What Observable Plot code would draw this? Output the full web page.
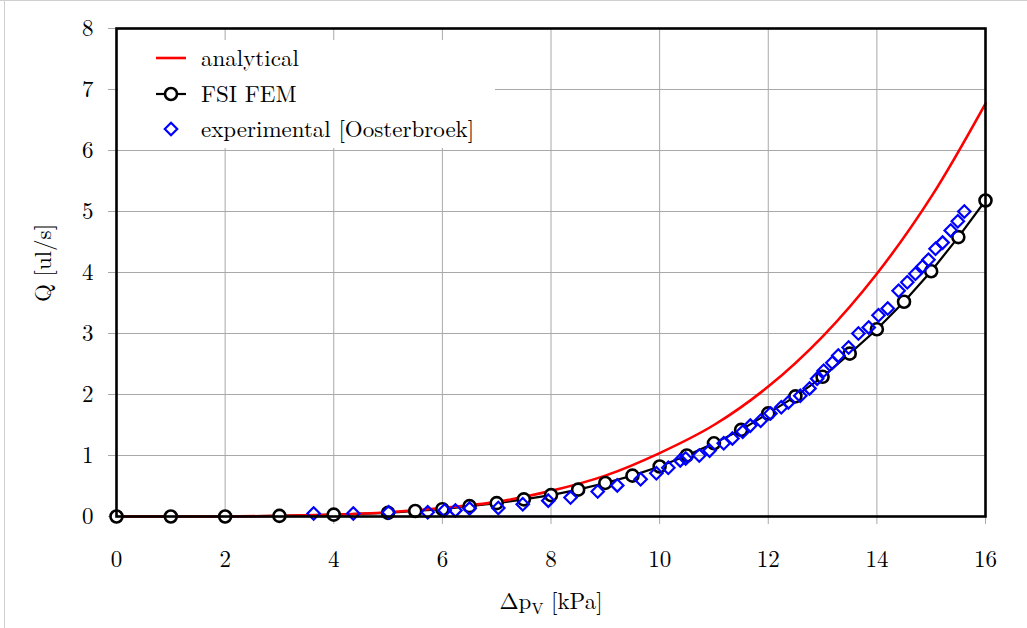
<!DOCTYPE html>
<html>
<head>
<meta charset="utf-8">
<script src="https://cdn.jsdelivr.net/npm/d3@7"></script>
<script src="https://cdn.jsdelivr.net/npm/@observablehq/plot@0.6"></script>
<style>
  html, body { margin: 0; padding: 0; background: white; }
  #wrap { position: relative; width: 1027px; height: 628px; overflow: hidden; }
  #bt { position: absolute; left: 0; top: 0; width: 1027px; height: 1px; background: #cfcfcf; }
  #bl { position: absolute; left: 4px; top: 0; width: 1px; height: 628px; background: #cfcfcf; }
</style>
</head>
<body>
<div id="wrap"><div id="chart"></div><div id="bt"></div><div id="bl"></div></div>
<script>
// ---- data ----
const femX = [0, 1, 2, 3, 4, 5, 5.5, 6, 6.5, 7, 7.5, 8, 8.5, 9, 9.5, 10, 10.5, 11, 11.5, 12, 12.5, 13, 13.5, 14, 14.5, 15, 15.5, 16];
const femQ = [0, 0, 0, 0.01, 0.03, 0.06, 0.09, 0.12, 0.17, 0.22, 0.28, 0.35, 0.44, 0.55, 0.67, 0.82, 1.0, 1.2, 1.42, 1.69, 1.97, 2.29, 2.67, 3.07, 3.52, 4.02, 4.58, 5.18];

const anaX = [0, 1, 2, 3, 4, 5, 6, 7, 8, 9, 10, 11, 12, 13, 14, 15, 16];
const anaQ = [0, 0, 0.0, 0.01, 0.03, 0.07, 0.14, 0.24, 0.42, 0.67, 1.04, 1.5, 2.13, 2.95, 3.98, 5.24, 6.77];

const expX = [3.63, 4.36, 5.01, 5.73, 6.04, 6.24, 6.5, 7.03, 7.48, 7.95, 8.36, 8.86, 9.22, 9.65, 9.94, 10.16, 10.38,
  10.48, 10.73, 10.92, 11.18, 11.34, 11.53, 11.67, 11.86, 12.04, 12.24, 12.37, 12.59, 12.76, 12.9,
  13.02, 13.18, 13.29, 13.48, 13.66, 13.85, 14.03, 14.2, 14.4, 14.56, 14.71, 14.84, 14.95, 15.08, 15.21, 15.36, 15.49, 15.61];
const expQ = [0.05, 0.05, 0.07, 0.07, 0.1, 0.1, 0.13, 0.14, 0.2, 0.26, 0.31, 0.41, 0.51, 0.61, 0.71, 0.8, 0.92,
  0.95, 1.0, 1.08, 1.2, 1.28, 1.39, 1.49, 1.57, 1.69, 1.79, 1.87, 1.98, 2.1, 2.26,
  2.39, 2.52, 2.64, 2.77, 3.0, 3.1, 3.3, 3.41, 3.7, 3.84, 3.98, 4.1, 4.21, 4.39, 4.49, 4.69, 4.84, 5.0];

const xTicks = [0, 2, 4, 6, 8, 10, 12, 14, 16];
const yTicks = [0, 1, 2, 3, 4, 5, 6, 7, 8];
const xGrid = [2, 4, 6, 8, 10, 12, 14];
const yGrid = [1, 2, 3, 4, 5, 6, 7];
const legendLabels = ["analytical", "FSI FEM", "experimental [Oosterbroek]"];
const yLabel = "Q [ul/s]";

const fem = femX.map((x, i) => ({x, y: femQ[i]}));
const ana = anaX.map((x, i) => ({x, y: anaQ[i]}));
const exp = expX.map((x, i) => ({x, y: expQ[i]}));

const FONT = "Latin Modern Roman";
const FS = 23;

const chart = Plot.plot({
  width: 1027,
  height: 628,
  marginLeft: 116,
  marginRight: 42,
  marginTop: 28,
  marginBottom: 112,
  style: {fontFamily: FONT, fontSize: FS + "px", background: "white", overflow: "visible"},
  x: {domain: [0, 16]},
  y: {domain: [0, 8]},
  marks: [
    Plot.gridX(xGrid, {stroke: "#a8a8a8", strokeOpacity: 1, strokeWidth: 1}),
    Plot.gridY(yGrid, {stroke: "#a8a8a8", strokeOpacity: 1, strokeWidth: 1}),
    Plot.axisX(xTicks, {tickSize: 8, tickPadding: 26, stroke: "#a8a8a8", fill: "black", label: null, fontSize: FS, tickFormat: d => String(d)}),
    Plot.axisY(yTicks, {tickSize: 8, tickPadding: 15, stroke: "#a8a8a8", fill: "black", label: null, fontSize: FS, tickFormat: d => String(d)}),
    Plot.line(fem, {x: "x", y: "y", stroke: "black", strokeWidth: 2.2}),
    Plot.line(ana, {x: "x", y: "y", stroke: "#ff0000", strokeWidth: 2.6, curve: "catmull-rom"}),
    Plot.dot(fem, {x: "x", y: "y", r: 6, stroke: "black", strokeWidth: 2.6, fill: "white"}),
    Plot.dot(exp, {x: "x", y: "y", symbol: "diamond2", r: 5.6, stroke: "#0000ff", strokeWidth: 2.2, fill: "none"}),
    Plot.frame({stroke: "black", strokeWidth: 2.6})
  ]
});

document.getElementById("chart").appendChild(chart);
d3.select(chart).selectAll("text").attr("font-family", FONT);

// ---- legend & axis labels ----
const svg = d3.select(chart);
const lg = svg.append("g");
lg.append("rect").attr("x", 118).attr("y", 40).attr("width", 377).attr("height", 108).attr("fill", "white");
const rowY = [58, 94, 129];
// analytical
lg.append("line").attr("x1", 156).attr("x2", 186).attr("y1", rowY[0]).attr("y2", rowY[0]).attr("stroke", "#ff0000").attr("stroke-width", 2.6);
// FSI FEM
lg.append("line").attr("x1", 156).attr("x2", 186).attr("y1", rowY[1]).attr("y2", rowY[1]).attr("stroke", "black").attr("stroke-width", 2.2);
lg.append("circle").attr("cx", 171).attr("cy", rowY[1]).attr("r", 6).attr("fill", "white").attr("stroke", "black").attr("stroke-width", 2.6);
// experimental
lg.append("path").attr("transform", `translate(171,${rowY[2]})`)
  .attr("d", d3.symbol(d3.symbolDiamond2, Math.PI * 5.6 * 5.6)())
  .attr("fill", "none").attr("stroke", "#0000ff").attr("stroke-width", 2.2);
legendLabels.forEach((t, i) => {
  lg.append("text").attr("x", 201).attr("y", rowY[i]).attr("dy", "0.33em").attr("text-anchor", "start")
    .attr("font-family", FONT).attr("font-size", FS).attr("fill", "black").text(t);
});

svg.append("text").attr("transform", "translate(43,263) rotate(-90)")
  .attr("text-anchor", "middle").attr("dy", "0.35em")
  .attr("font-family", FONT).attr("font-size", FS).attr("fill", "black").text(yLabel);

const xl = svg.append("text").attr("x", 551).attr("y", 609)
  .attr("text-anchor", "middle").attr("font-family", FONT).attr("font-size", FS).attr("fill", "black");
xl.append("tspan").text("Δp");
xl.append("tspan").attr("dy", 5).attr("font-size", 16).text("V");
xl.append("tspan").attr("dy", -5).text(" [kPa]");
</script>
</body>
</html>
